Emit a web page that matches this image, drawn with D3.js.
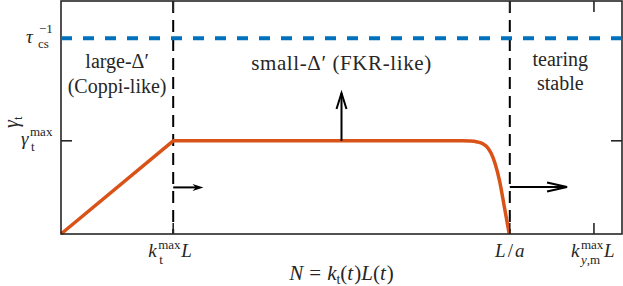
<!DOCTYPE html>
<html><head><meta charset="utf-8">
<script src="https://cdn.jsdelivr.net/npm/d3@7"></script>
<style>
html,body{margin:0;padding:0;background:#fff;}
svg text{font-family:"Liberation Serif","DejaVu Serif",serif;fill:#262626;}
</style></head>
<body><svg id="c" width="623" height="286"></svg>
<script>
// ---- data ----
const xMarks = [0.2, 0.8, 0.95];            // kt^max L, L/a, ky,m^max L
const yMarks = [0.4, 0.84];                 // gamma_t^max, tau_cs^-1
const rampN =    [0, 0.2, 0.715];
const rampVal =  [0, 0.4, 0.4];
const tailN =    [0.715, 0.73, 0.742, 0.752, 0.76, 0.767, 0.774, 0.782, 0.79, 0.799];
const tailVal =  [0.4,   0.399, 0.395, 0.387, 0.372, 0.345, 0.3, 0.225, 0.12, 0];
const tauLine = [0.84, 0.84];
const regionLabels = ["large-Δ′", "(Coppi-like)", "small-Δ′ (FKR-like)", "tearing", "stable"];

const svg = d3.select("#c");
const m = {l:61, r:1, t:1, b:52};
const W = 623, H = 286;
const x = d3.scaleLinear().domain([0,1]).range([m.l, W-m.r]);
const y = d3.scaleLinear().domain([0,1]).range([H-m.b, m.t]);
const axCol = "#262626";

// regime boundaries (dashed black)
[xMarks[0], xMarks[1]].forEach(v=>{
  svg.append("line").attr("x1",x(v)).attr("x2",x(v)).attr("y1",y(1)).attr("y2",y(0))
    .attr("stroke","#000").attr("stroke-width",2).attr("stroke-dasharray","12,7");
});

// orange growth rate curve
const lineLin = d3.line().x(d=>x(d[0])).y(d=>y(d[1]));
const lineMono = d3.line().x(d=>x(d[0])).y(d=>y(d[1])).curve(d3.curveMonotoneX);
const dPath = lineLin(rampN.map((d,i)=>[d,rampVal[i]])) + lineMono(tailN.map((d,i)=>[d,tailVal[i]])).replace(/^M/,"L");
svg.append("path").attr("d", dPath)
  .attr("stroke","#D95319").attr("stroke-width",3.5).attr("fill","none").attr("stroke-linejoin","round");

// axes box
svg.append("rect").attr("x",x(0)).attr("y",y(1)).attr("width",x(1)-x(0)).attr("height",y(0)-y(1))
  .attr("fill","none").attr("stroke",axCol).attr("stroke-width",1.6);

// inward ticks
const tl = 11;
xMarks.forEach(v=>{
  svg.append("line").attr("x1",x(v)).attr("x2",x(v)).attr("y1",y(0)).attr("y2",y(0)-tl).attr("stroke",axCol).attr("stroke-width",1.6);
  svg.append("line").attr("x1",x(v)).attr("x2",x(v)).attr("y1",y(1)).attr("y2",y(1)+tl).attr("stroke",axCol).attr("stroke-width",1.6);
});
yMarks.forEach(v=>{
  svg.append("line").attr("x1",x(0)).attr("x2",x(0)+tl).attr("y1",y(v)).attr("y2",y(v)).attr("stroke",axCol).attr("stroke-width",1.6);
  svg.append("line").attr("x1",x(1)).attr("x2",x(1)-tl).attr("y1",y(v)).attr("y2",y(v)).attr("stroke",axCol).attr("stroke-width",1.6);
});
// blue dashed tau line
svg.append("path").datum([0,1].map((d,i)=>[d,tauLine[i]]))
  .attr("d", lineLin)
  .attr("stroke","#0072BD").attr("stroke-width",4).attr("fill","none")
  .attr("stroke-dasharray","11,11");

// arrows
function openArrow(x1,y1,x2,y2,len,hw){
  svg.append("line").attr("x1",x1).attr("y1",y1).attr("x2",x2).attr("y2",y2).attr("stroke","#000").attr("stroke-width",2);
  const a = Math.atan2(y2-y1,x2-x1);
  const p = (s)=>[x2 - len*Math.cos(a) + s*hw*Math.sin(a), y2 - len*Math.sin(a) - s*hw*Math.cos(a)];
  const A=p(1),B=p(-1);
  svg.append("path").attr("d",`M${A[0]},${A[1]} L${x2},${y2} L${B[0]},${B[1]}`)
    .attr("stroke","#000").attr("stroke-width",2).attr("fill","none").attr("stroke-linejoin","miter");
}
function filledArrow(x1,y1,x2,y2,len,hw){
  svg.append("line").attr("x1",x1).attr("y1",y1).attr("x2",x2-len*0.5).attr("y2",y2).attr("stroke","#000").attr("stroke-width",2);
  svg.append("path").attr("d",`M${x2},${y2} L${x2-len},${y2-hw} L${x2-len*0.7},${y2} L${x2-len},${y2+hw} Z`).attr("fill","#000");
}
filledArrow(x(xMarks[0]), y(0.2), x(0.254), y(0.2), 11, 3.5);
openArrow(x(0.5), y(0.4), x(0.5), y(0.605), 16, 5);
openArrow(x(xMarks[1]), y(0.202), x(0.902), y(0.202), 20, 4.5);

// region labels
function lab(t,cx,cy,fs,ls){ svg.append("text").attr("x",cx).attr("y",cy).attr("text-anchor","middle").attr("font-size",fs).attr("letter-spacing",ls||0).text(t); }
lab(regionLabels[0], x(0.1), 68, 20);
lab(regionLabels[1], x(0.1), 93, 20);
lab(regionLabels[2], x(0.5), 70, 21, 0.6);
lab(regionLabels[3], x(0.89), 66, 20);
lab(regionLabels[4], x(0.89), 90, 20);

// helpers for math text pieces
function t(txt,px,py,fs,it){ return svg.append("text").attr("x",px).attr("y",py).attr("font-size",fs).attr("font-style",it?"italic":"normal").text(txt); }

// y tick labels
const ty1 = y(yMarks[1]);
t("τ", 26, ty1+5, 19, true);
t("−1", 39, ty1-5, 13, false);
t("cs", 38, ty1+10, 13, false);
const ty0 = y(yMarks[0]);
t("γ", 21, ty0+4, 19, true);
t("max", 30, ty0-5, 13, false);
t("t", 31, ty0+10, 13, false);

// x tick labels
const xb = 257;
const x0 = x(xMarks[0]);
t("k", x0-25, xb, 19, true);
t("max", x0-15, xb-8, 13, false);
t("t", x0-14, xb+7, 13, false);
t("L", x0+8, xb, 19, true);
const x1p = x(xMarks[1]);
let la = svg.append("text").attr("x",x1p).attr("y",xb).attr("text-anchor","middle").attr("font-size",19);
la.append("tspan").attr("font-style","italic").text("L");
la.append("tspan").attr("dx",2).text("/");
la.append("tspan").attr("dx",2).attr("font-style","italic").text("a");
const x2p = x(xMarks[2]);
t("k", x2p-23, xb, 19, true);
t("max", x2p-13, xb-8, 13, false);
let ym = t("", x2p-13, xb+7, 13, false);
ym.append("tspan").attr("font-style","italic").text("y");
ym.append("tspan").text(",m");
t("L", x2p+10, xb, 19, true);

// axis labels
let xl = svg.append("text").attr("x",x(0.5)).attr("y",280).attr("text-anchor","middle").attr("font-size",21);
xl.append("tspan").attr("font-style","italic").text("N");
xl.append("tspan").attr("dx",6).text("=");
xl.append("tspan").attr("dx",6).attr("font-style","italic").text("k");
xl.append("tspan").attr("font-size",14).attr("dy",4).text("t");
xl.append("tspan").attr("dy",-4).text("(");
xl.append("tspan").attr("font-style","italic").text("t");
xl.append("tspan").attr("dx",1).text(")");
xl.append("tspan").attr("font-style","italic").text("L");
xl.append("tspan").text("(");
xl.append("tspan").attr("font-style","italic").text("t");
xl.append("tspan").attr("dx",1).text(")");
let yl = svg.append("text").attr("transform",`translate(18,${y(0.48)}) rotate(-90)`).attr("text-anchor","middle").attr("font-size",20);
yl.append("tspan").attr("font-style","italic").text("γ");
yl.append("tspan").attr("font-size",13).attr("dy",4).text("t");
</script></body></html>
